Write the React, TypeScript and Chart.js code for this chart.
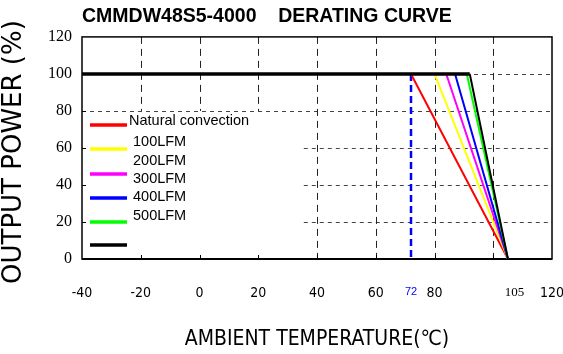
import { useEffect, useRef } from 'react';
import { Chart, registerables } from 'chart.js';

Chart.register(...registerables);

const TITLE = 'CMMDW48S5-4000    DERATING CURVE';
const X_TITLE = 'AMBIENT TEMPERATURE(℃)';
const Y_TITLE = 'OUTPUT POWER (%)';

const seriesLabels = ['Natural convection', '100LFM', '200LFM', '300LFM', '400LFM', '500LFM', ''];
const seriesColors = ['#ff0000', '#ffff00', '#ff00ff', '#0000ff', '#00ff00', '#000000'];
const startTemp = -40;
const kneeTemps = [72, 80, 84, 87, 91, 92];
const endTemp = 105;
const curvePower = [100, 100, 0];

const markerTemp = 72;
const markerPower = [100, 0];

const xTicks = [-40, -20, 0, 20, 40, 60, 72, 80, 105, 120];
const yTicks = [0, 20, 40, 60, 80, 100, 120];
const gridTemps = [-20, 0, 20, 40, 60, 80, 100];
const gridPowers = [20, 40, 60, 80, 100];

const SANS = "'Liberation Sans', Arial, sans-serif";
const NARROW = "'Liberation Sans Narrow', 'Arial Narrow', 'DejaVu Sans Condensed', sans-serif";
const SERIF = "'Liberation Serif', 'Times New Roman', serif";

const framePlugin = {
  id: 'frame',
  beforeDatasetsDraw(chart: any) {
    const { ctx, chartArea: a, scales } = chart;
    const x = scales.x;
    const y = scales.y;
    ctx.save();
    ctx.lineWidth = 1;
    ctx.strokeStyle = '#444';
    ctx.setLineDash([4, 4]);
    for (const v of gridPowers) {
      const py = Math.round(y.getPixelForValue(v)) + 0.5;
      const x0 = v < 80 ? x.getPixelForValue(35.5) : a.left;
      ctx.beginPath();
      ctx.moveTo(x0, py);
      ctx.lineTo(a.right, py);
      ctx.stroke();
    }
    ctx.strokeStyle = '#222';
    ctx.setLineDash([7, 5]);
    for (const v of gridTemps) {
      const px = Math.round(x.getPixelForValue(v)) + 0.5;
      const y1 = v <= 20 ? y.getPixelForValue(80) : a.bottom;
      ctx.beginPath();
      ctx.moveTo(px, a.top);
      ctx.lineTo(px, y1);
      ctx.stroke();
    }
    ctx.setLineDash([]);
    ctx.strokeStyle = '#000';
    for (const v of gridTemps) {
      const px = Math.round(x.getPixelForValue(v)) + 0.5;
      ctx.beginPath();
      ctx.moveTo(px, a.bottom);
      ctx.lineTo(px, a.bottom - 4);
      ctx.stroke();
    }
    for (const v of gridPowers) {
      const py = Math.round(y.getPixelForValue(v)) + 0.5;
      ctx.beginPath();
      ctx.moveTo(a.left, py);
      ctx.lineTo(a.left + 4, py);
      ctx.stroke();
    }
    ctx.lineWidth = 1.5;
    ctx.strokeRect(a.left, a.top, a.right - a.left, a.bottom - a.top);
    ctx.lineWidth = 2;
    ctx.beginPath();
    ctx.moveTo(a.left, a.bottom);
    ctx.lineTo(a.right, a.bottom);
    ctx.stroke();
    ctx.restore();
  },
  afterDatasetsDraw(chart: any) {
    const { ctx, chartArea: a } = chart;
    const sampleY = [88, 112, 137, 161, 185, 208];
    const textY = [84, 105, 124, 142, 160, 179];
    const textX = [47, 51, 51, 51, 51, 51];
    ctx.save();
    ctx.lineWidth = 3.5;
    ctx.lineCap = 'butt';
    seriesColors.forEach((c, i) => {
      ctx.strokeStyle = c;
      ctx.beginPath();
      ctx.moveTo(a.left + 8, a.top + sampleY[i]);
      ctx.lineTo(a.left + 45, a.top + sampleY[i]);
      ctx.stroke();
    });
    ctx.fillStyle = '#000';
    ctx.font = `14.5px ${SANS}`;
    ctx.textBaseline = 'middle';
    ctx.textAlign = 'left';
    seriesLabels.forEach((t, i) => {
      if (!t) return;
      ctx.fillText(t, a.left + textX[i], a.top + textY[i]);
    });
    ctx.restore();
  },
};

export default function App() {
  const ref = useRef<HTMLCanvasElement>(null);
  useEffect(() => {
    const canvas = ref.current;
    if (!canvas) return;
    const curves = kneeTemps.map((k, i) => ({
      label: seriesLabels[i] || 'limit',
      data: [startTemp, k, endTemp].map((t, j) => ({ x: t, y: curvePower[j] })),
      borderColor: seriesColors[i],
      borderWidth: 2,
      segment: i === kneeTemps.length - 1 ? { borderWidth: (c: any) => (c.p0DataIndex === 0 ? 3.5 : 2) } : undefined,
      pointRadius: 0,
      tension: 0,
      fill: false,
      order: kneeTemps.length - 1 - i,
    }));
    const marker = {
      label: 'marker',
      data: markerPower.map((p) => ({ x: markerTemp, y: p })),
      borderColor: '#0000ff',
      borderWidth: 2.5,
      borderDash: [7, 4],
      pointRadius: 0,
      fill: false,
      order: 10,
    };
    const chart = new Chart(canvas, {
      type: 'line',
      data: { datasets: [...curves, marker] as any },
      options: {
        responsive: false,
        animation: false,
        devicePixelRatio: 1,
        layout: { padding: { left: 0, right: 11, top: 0, bottom: 0 } },
        plugins: {
          legend: { display: false },
          tooltip: { enabled: false },
          title: {
            display: true,
            text: TITLE,
            align: 'start',
            fullSize: false,
            color: '#000',
            font: { family: SANS, size: 19.5, weight: 'bold' },
            padding: { top: 5, bottom: 8.5 },
          },
        },
        scales: {
          x: {
            type: 'linear',
            min: -40,
            max: 120,
            afterBuildTicks: (s: any) => {
              s.ticks = xTicks.map((v) => ({ value: v }));
            },
            afterFit: (s: any) => {
              s.height = 95;
              s.paddingLeft = 0;
              s.paddingRight = 0;
            },
            grid: { display: false, drawTicks: false },
            border: { display: false },
            ticks: {
              autoSkip: false,
              maxRotation: 0,
              padding: 26,
              callback: (v: any) => (v === 105 ? '    105' : String(v)),
              color: (c: any) => (c.tick && c.tick.value === 72 ? '#0000ff' : '#000'),
              font: (c: any) => {
                const v = c.tick ? c.tick.value : 0;
                if (v === 72) return { family: SANS, size: 11 };
                if (v === 105) return { family: SERIF, size: 13 };
                return { family: NARROW, size: 14 };
              },
            },
            title: {
              display: true,
              text: X_TITLE,
              color: '#000',
              font: { family: NARROW, size: 21 },
              padding: { top: 0, bottom: 2 },
            },
          },
          y: {
            type: 'linear',
            min: 0,
            max: 120,
            afterBuildTicks: (s: any) => {
              s.ticks = yTicks.map((v) => ({ value: v }));
            },
            afterFit: (s: any) => {
              s.width = 82;
            },
            grid: { display: false, drawTicks: false },
            border: { display: false },
            ticks: {
              padding: 10,
              color: '#000',
              font: { family: SERIF, size: 16 },
            },
            title: {
              display: true,
              text: Y_TITLE + ' ',
              color: '#000',
              font: { family: "'DejaVu Sans', Verdana, sans-serif", size: 26 },
              padding: { top: -1, bottom: 0 },
            },
          },
        },
      },
      plugins: [framePlugin],
    });
    return () => chart.destroy();
  }, []);
  return (
    <div style={{ position: 'fixed', left: 0, top: 0, width: 563, height: 354, background: '#fff' }}>
      <canvas ref={ref} width={563} height={354} style={{ display: 'block', width: 563, height: 354 }} />
    </div>
  );
}
